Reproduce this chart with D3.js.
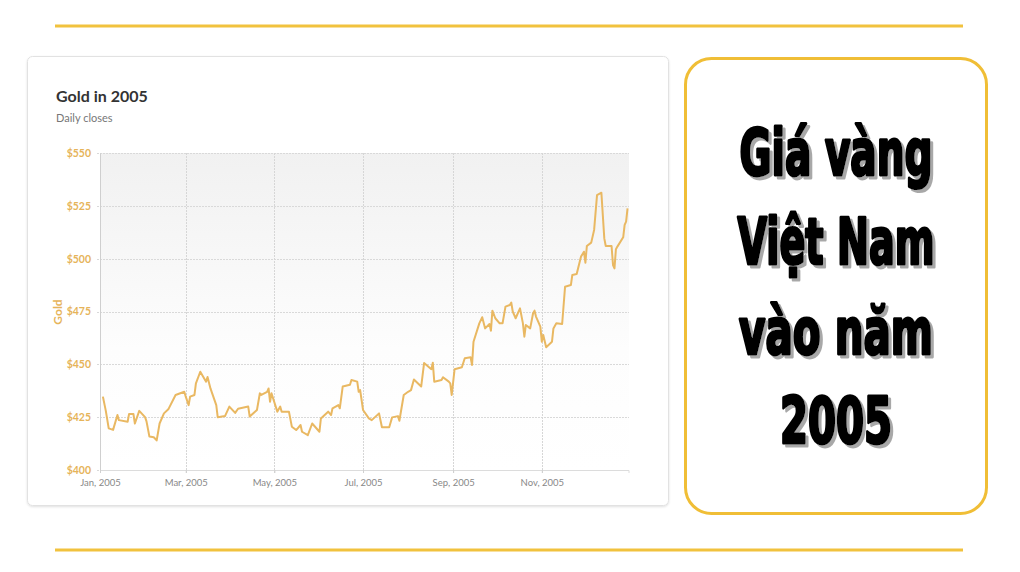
<!DOCTYPE html>
<html>
<head>
<meta charset="utf-8">
<script src="https://cdn.jsdelivr.net/npm/d3@7"></script>
<style>
  html, body { margin: 0; padding: 0; background: #fff; }
  svg { display: block; }
</style>
</head>
<body>
<svg id="chart" width="1020" height="572"></svg>
<script>
// ---------- DATA ----------
const dates = [
  "2005-01-03","2005-01-05","2005-01-07","2005-01-10","2005-01-13","2005-01-14","2005-01-20","2005-01-21",
  "2005-01-24","2005-01-25","2005-01-28","2005-02-01","2005-02-02","2005-02-04","2005-02-07","2005-02-09",
  "2005-02-11","2005-02-14","2005-02-17","2005-02-22","2005-02-28","2005-03-01","2005-03-03","2005-03-04",
  "2005-03-07","2005-03-08","2005-03-11","2005-03-15","2005-03-16","2005-03-18","2005-03-22","2005-03-23",
  "2005-03-28","2005-03-31","2005-04-04","2005-04-06","2005-04-13","2005-04-14","2005-04-19","2005-04-21",
  "2005-04-22","2005-04-26","2005-04-27","2005-04-28","2005-04-29","2005-05-03","2005-05-05","2005-05-06",
  "2005-05-11","2005-05-13","2005-05-16","2005-05-19","2005-05-20","2005-05-24","2005-05-27","2005-06-01",
  "2005-06-02","2005-06-07","2005-06-09","2005-06-10","2005-06-14","2005-06-15","2005-06-17","2005-06-22",
  "2005-06-23","2005-06-27","2005-06-28","2005-06-29","2005-07-01","2005-07-05","2005-07-07","2005-07-12",
  "2005-07-14","2005-07-19","2005-07-21","2005-07-25","2005-07-26","2005-07-29","2005-08-01","2005-08-03",
  "2005-08-05","2005-08-10","2005-08-12","2005-08-17","2005-08-18","2005-08-19","2005-08-24","2005-08-25",
  "2005-08-29","2005-08-30","2005-08-31","2005-09-02","2005-09-07","2005-09-09","2005-09-13","2005-09-14",
  "2005-09-15","2005-09-19","2005-09-21","2005-09-23","2005-09-26","2005-09-27","2005-09-28","2005-09-30",
  "2005-10-03","2005-10-05","2005-10-07","2005-10-10","2005-10-11","2005-10-12","2005-10-14","2005-10-17",
  "2005-10-19","2005-10-20","2005-10-21","2005-10-24","2005-10-26","2005-10-27","2005-10-28","2005-10-31",
  "2005-11-01","2005-11-02","2005-11-04","2005-11-08","2005-11-09","2005-11-11","2005-11-15","2005-11-17",
  "2005-11-21","2005-11-22","2005-11-25","2005-11-28","2005-11-30","2005-12-01","2005-12-02","2005-12-05",
  "2005-12-07","2005-12-09","2005-12-12","2005-12-14","2005-12-15","2005-12-19","2005-12-20","2005-12-21",
  "2005-12-22","2005-12-23","2005-12-27","2005-12-28","2005-12-29","2005-12-30"
];
const closes = [
  434.7,428.0,419.7,419.0,426.0,423.6,422.8,426.5,
  426.5,422.0,428.0,425.0,423.0,415.8,415.5,414.0,
  422.0,426.8,428.7,435.5,437.0,434.7,430.7,434.7,
  435.5,441.0,446.5,441.8,444.0,438.6,430.7,425.0,
  425.5,430.0,427.0,429.0,430.0,425.3,428.4,436.3,
  435.5,437.0,438.6,432.3,436.3,427.6,430.0,427.6,
  427.6,420.5,418.9,421.3,418.1,416.5,422.0,418.1,
  424.4,427.6,426.0,429.2,430.7,429.2,439.5,440.3,
  442.6,441.8,437.0,437.8,428.4,424.4,423.6,426.8,
  420.2,420.2,424.9,425.5,423.3,435.5,437.0,437.8,
  442.8,439.5,450.6,447.7,450.8,441.8,442.6,443.9,
  441.8,441.0,435.5,447.7,448.6,452.9,453.3,449.7,
  460.7,469.4,472.3,467.0,469.1,465.9,475.4,471.8,
  469.4,469.4,477.3,478.1,479.2,475.0,471.8,476.5,
  469.4,463.1,468.6,467.0,474.2,475.4,472.6,467.8,
  460.7,463.9,458.1,460.7,467.0,469.4,469.1,486.7,
  487.5,492.3,492.7,501.0,503.3,498.1,506.0,507.6,
  513.6,530.1,531.2,509.6,506.0,506.0,497.0,495.4,
  504.5,505.7,510.1,516.0,517.5,523.8
];
const yTicks = [400, 425, 450, 475, 500, 525, 550];
const xTickDates = ["2005-01-01","2005-03-01","2005-05-01","2005-07-01","2005-09-01","2005-11-01"];
const chartTitle = "Gold in 2005";
const chartSubtitle = "Daily closes";
const yAxisTitle = "Gold";
const headlineLines = ["Giá vàng", "Việt Nam", "vào năm", "2005"];

// ---------- DRAW ----------
const parse = d3.timeParse("%Y-%m-%d");
const series = dates.map((d, i) => ({ date: parse(d), value: closes[i] }));

const svg = d3.select("#chart");
const defs = svg.append("defs");

// decorative gold rules
svg.append("line").attr("x1", 55).attr("x2", 963).attr("y1", 26).attr("y2", 26)
  .attr("stroke", "#F1C23E").attr("stroke-width", 3);
svg.append("line").attr("x1", 55).attr("x2", 963).attr("y1", 550).attr("y2", 550)
  .attr("stroke", "#F1C23E").attr("stroke-width", 3);

// card
const shadow = defs.append("filter").attr("id", "cardShadow")
  .attr("x", "-5%").attr("y", "-5%").attr("width", "110%").attr("height", "110%");
shadow.append("feDropShadow").attr("dx", 0).attr("dy", 1).attr("stdDeviation", 1.2)
  .attr("flood-color", "#000").attr("flood-opacity", 0.12);
svg.append("rect").attr("x", 27.5).attr("y", 56.5).attr("width", 641).attr("height", 449)
  .attr("rx", 5).attr("fill", "#fff").attr("stroke", "#e2e2e2").attr("filter", "url(#cardShadow)");

svg.append("text").attr("x", 56).attr("y", 102)
  .attr("font-family", "Lato, 'Open Sans', sans-serif").attr("font-weight", 700)
  .attr("font-size", 16).attr("fill", "#333").text(chartTitle);
svg.append("text").attr("x", 56).attr("y", 122)
  .attr("font-family", "Lato, 'Open Sans', sans-serif")
  .attr("font-size", 11).attr("fill", "#777").text(chartSubtitle);

const plot = { left: 100, right: 629, top: 153, bottom: 470 };
const x = d3.scaleTime()
  .domain([parse("2005-01-01"), parse("2005-12-31")])
  .range([plot.left, plot.right]);
const y = d3.scaleLinear().domain([400, 550]).range([plot.bottom, plot.top]);

// plot background gradient
const grad = defs.append("linearGradient").attr("id", "bgGrad")
  .attr("x1", 0).attr("y1", 0).attr("x2", 0).attr("y2", 1);
grad.append("stop").attr("offset", "0%").attr("stop-color", "#f1f1f1");
grad.append("stop").attr("offset", "62%").attr("stop-color", "#fdfdfd");
grad.append("stop").attr("offset", "100%").attr("stop-color", "#ffffff");
svg.append("rect").attr("x", plot.left).attr("y", plot.top)
  .attr("width", plot.right - plot.left).attr("height", plot.bottom - plot.top)
  .attr("fill", "url(#bgGrad)");

// horizontal grid
svg.append("g").selectAll("line").data(yTicks).join("line")
  .attr("x1", plot.left - 3).attr("x2", plot.right)
  .attr("y1", d => Math.round(y(d)) + 0.5).attr("y2", d => Math.round(y(d)) + 0.5)
  .attr("stroke", "#d9d9d9").attr("stroke-dasharray", "2,1");

// vertical grid
const xTicks = xTickDates.map(parse);
svg.append("g").selectAll("line").data(xTicks).join("line")
  .attr("x1", d => Math.round(x(d)) + 0.5).attr("x2", d => Math.round(x(d)) + 0.5)
  .attr("y1", plot.top).attr("y2", plot.bottom + 3)
  .attr("stroke", "#d6d6d6").attr("stroke-dasharray", "2,1");

// axes
const yAxis = d3.axisLeft(y).tickValues(yTicks).tickSize(0).tickPadding(9)
  .tickFormat(d => "$" + d);
const gy = svg.append("g").attr("transform", `translate(${plot.left},0)`).call(yAxis);
gy.select(".domain").attr("stroke", "#cfcfcf");
gy.selectAll("text").attr("font-family", "Lato, 'Open Sans', sans-serif")
  .attr("font-weight", 700).attr("font-size", 10.5).attr("fill", "#E6B45A");

const xAxis = d3.axisBottom(x).tickValues(xTicks).tickSize(3).tickPadding(6)
  .tickFormat(d3.timeFormat("%b, %Y"));
const gx = svg.append("g").attr("transform", `translate(0,${plot.bottom})`).call(xAxis);
gx.select(".domain").attr("stroke", "#dcdcdc").attr("d", `M${plot.left},0.5H${plot.right}V3`);
gx.selectAll(".tick line").attr("stroke", "#d0d0d0");
gx.selectAll("text").attr("font-family", "Lato, 'Open Sans', sans-serif")
  .attr("font-size", 9.5).attr("fill", "#888");

svg.append("text").attr("transform", `translate(62,312) rotate(-90)`)
  .attr("text-anchor", "middle")
  .attr("font-family", "Lato, 'Open Sans', sans-serif").attr("font-weight", 700)
  .attr("font-size", 12).attr("fill", "#E6B45A").text(yAxisTitle);

// line
const line = d3.line().x(d => x(d.date)).y(d => y(d.value)).curve(d3.curveLinear);
svg.append("path").datum(series).attr("d", line)
  .attr("fill", "none").attr("stroke", "#E9B862").attr("stroke-width", 2)
  .attr("stroke-linejoin", "round");

// right panel
svg.append("rect").attr("x", 685.5).attr("y", 58.5).attr("width", 301).attr("height", 455)
  .attr("rx", 26).attr("fill", "#fff").attr("stroke", "#F0BE36").attr("stroke-width", 3);

const txtShadow = defs.append("filter").attr("id", "txtShadow")
  .attr("filterUnits", "userSpaceOnUse")
  .attr("x", 690).attr("y", 62).attr("width", 292).attr("height", 448);
txtShadow.append("feDropShadow").attr("dx", 3).attr("dy", 3).attr("stdDeviation", 0.6)
  .attr("flood-color", "#8a8a8a").attr("flood-opacity", 0.75);

const baselines = [175, 264, 354, 443];
const widths = [193, 197, 194, 112];
const tg = svg.append("g").attr("filter", "url(#txtShadow)");
headlineLines.forEach((t, i) => {
  const txt = tg.append("text").attr("x", 0).attr("y", 0)
    .attr("text-anchor", "middle")
    .attr("font-family", "'Liberation Sans Narrow', 'DejaVu Sans Condensed', 'Liberation Sans', sans-serif")
    .attr("font-weight", 700).attr("font-size", 64)
    .attr("fill", "#000").attr("stroke", "#000").attr("stroke-width", 3)
    .attr("stroke-linejoin", "round").text(t);
  const natural = txt.node().getComputedTextLength() || widths[i];
  const sx = widths[i] / natural;
  txt.attr("transform", `translate(836,${baselines[i]}) scale(${sx},1)`);
});
</script>
</body>
</html>
